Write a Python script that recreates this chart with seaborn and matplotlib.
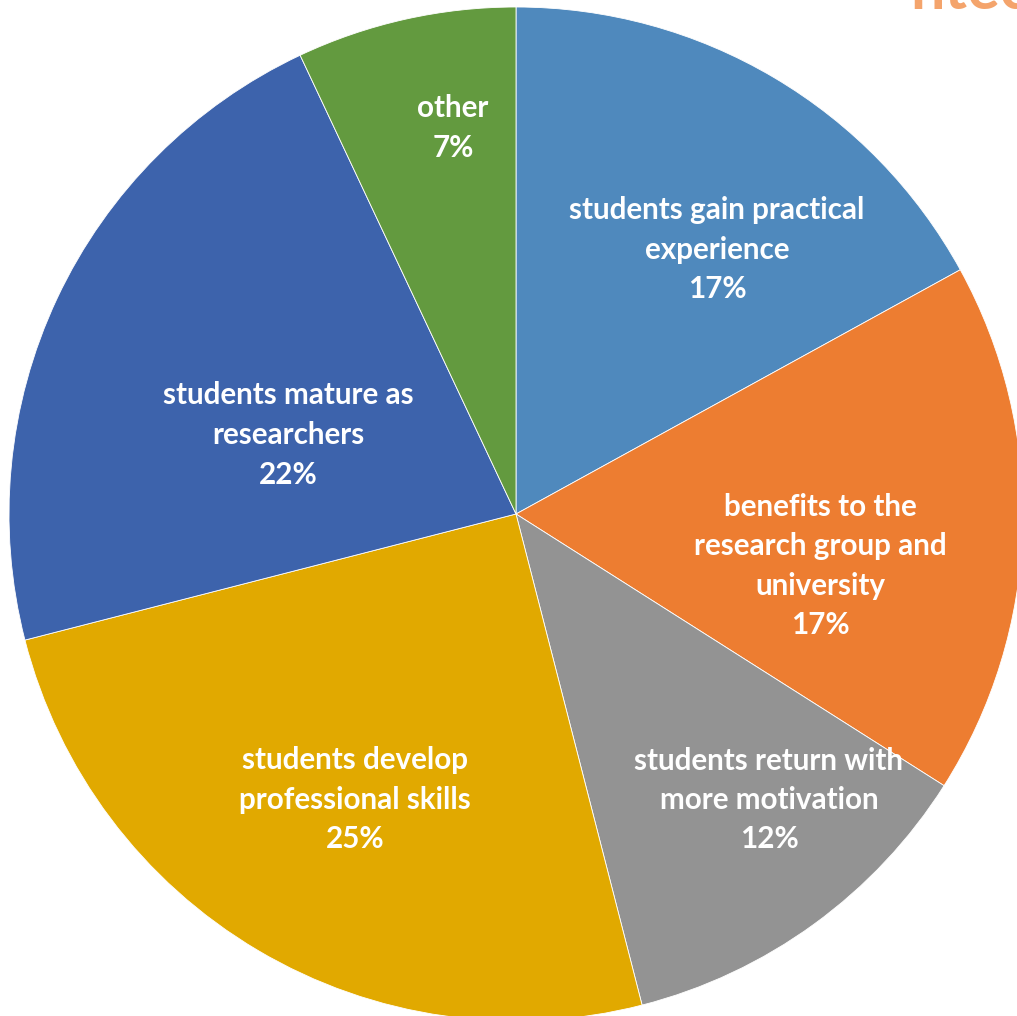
import matplotlib
matplotlib.use("Agg")
import matplotlib.pyplot as plt
import seaborn as sns

# Chart data
categories = [
    "students gain practical\nexperience",
    "benefits to the\nresearch group and\nuniversity",
    "students return with\nmore motivation",
    "students develop\nprofessional skills",
    "students mature as\nresearchers",
    "other",
]
shares = [17, 17, 12, 25, 22, 7]
colors = ["#4F89BD", "#ED7D31", "#939393", "#E1A900", "#3D63AC", "#639A3F"]

# label anchor points in pixel space (x, y from top)
label_pos = [(717, 250), (820, 566), (769, 800), (355, 800), (288, 435), (453, 128)]

sns.set_theme(style="white")
plt.rcParams["font.family"] = ["Lato", "DejaVu Sans"]

W, H = 1017, 1016
fig = plt.figure(figsize=(W / 100, H / 100), dpi=100)
ax = fig.add_axes([0, 0, 1, 1])

cx, cy, r = 516, H - 514, 507
wedges, _ = ax.pie(
    shares,
    colors=colors,
    startangle=90,
    counterclock=False,
    center=(cx, cy),
    radius=r,
    wedgeprops=dict(edgecolor="white", linewidth=0.6),
    frame=False,
)

for cat, val, (x, y) in zip(categories, shares, label_pos):
    ax.text(x, H - y, f"{cat}\n{val}%", ha="center", va="center",
            color="white", fontsize=21.3, fontweight="bold", linespacing=1.5)

# cropped heading fragment at the top edge
ax.text(1030, H - 9, "ntec", ha="right", va="baseline", color="#F4A46C",
        fontsize=44, fontweight="bold")

ax.set_xlim(0, W)
ax.set_ylim(0, H)
ax.set_aspect("equal")
ax.axis("off")

fig.savefig("out.png", dpi=100)
plt.close(fig)
